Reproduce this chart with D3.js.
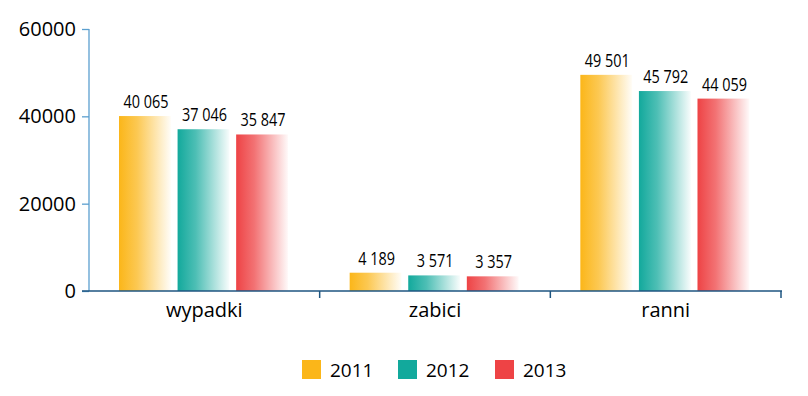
<!DOCTYPE html>
<html><head><meta charset="utf-8">
<script src="https://cdn.jsdelivr.net/npm/d3@7"></script>
<style>body{margin:0;background:#fff;} svg{display:block;}</style>
</head><body>
<svg id="c" width="808" height="396"></svg>
<script>
const categories = ["wypadki", "zabici", "ranni"];
const years = ["2011", "2012", "2013"];
const v2011 = [40065, 4189, 49501];
const v2012 = [37046, 3571, 45792];
const v2013 = [35847, 3357, 44059];
const yTicks = [0, 20000, 40000, 60000];
const colors = ["#FBB619", "#12A99C", "#EE4345"];
const series = [v2011, v2012, v2013];

const svg = d3.select("#c");
const x0 = d3.scaleBand().domain(categories).range([89, 781]).paddingInner(0).paddingOuter(0);
const x1 = d3.scaleBand().domain(years).range([30, 199]).paddingInner(0.115);
const y = d3.scaleLinear().domain([0, 60000]).range([291, 29]);

const defs = svg.append("defs");
colors.forEach((c, i) => {
  const g = defs.append("linearGradient").attr("id", "g" + i).attr("x1", "0").attr("x2", "1").attr("y1", "0").attr("y2", "0");
  g.append("stop").attr("offset", "0").attr("stop-color", c).attr("stop-opacity", 1);
  g.append("stop").attr("offset", "0.35").attr("stop-color", c).attr("stop-opacity", 0.75);
  g.append("stop").attr("offset", "1").attr("stop-color", c).attr("stop-opacity", 0.03);
});

const fmt = v => d3.format(",")(v).replace(/,/g, " ");

categories.forEach((cat, ci) => {
  series.forEach((s, si) => {
    const xx = x0(cat) + x1(years[si]);
    svg.append("rect").attr("x", xx).attr("y", y(s[ci])).attr("width", x1.bandwidth())
      .attr("height", y(0) - y(s[ci])).attr("fill", `url(#g${si})`);
    const cx = xx + x1.bandwidth() / 2 + 1, cy = y(s[ci]) - 8;
    svg.append("text").attr("transform", `translate(${cx},${cy}) scale(0.76,1)`)
      .attr("text-anchor", "middle").attr("font-family", "'Open Sans','Noto Sans',sans-serif")
      .attr("font-size", 19).attr("fill", "#000").text(fmt(s[ci]));
  });
});

// y axis
const yAxis = svg.append("g").attr("transform", "translate(89,0)")
  .call(d3.axisLeft(y).tickValues(yTicks).tickSize(7).tickPadding(6).tickFormat(d3.format("d")));
yAxis.select(".domain").attr("stroke", "#5b9fcf").attr("stroke-width", 1.3).attr("d", "M0,29V291");
yAxis.selectAll(".tick line").attr("stroke", "#5b9fcf").attr("stroke-width", 1.3);
yAxis.selectAll(".tick text").attr("font-family", "'Open Sans','Noto Sans',sans-serif").attr("font-size", 20).attr("fill", "#000");

// x axis
const xAxis = svg.append("g").attr("transform", "translate(0,291)")
  .call(d3.axisBottom(x0).tickSize(0).tickPadding(12));
xAxis.select(".domain").attr("stroke", "#1e5580").attr("stroke-width", 1.5).attr("d", "M82,0H782");
xAxis.selectAll(".tick text").attr("font-family", "'Open Sans','Noto Sans',sans-serif").attr("font-size", 20).attr("fill", "#000");
const bounds = [x0("zabici"), x0("ranni"), x0("ranni") + x0.bandwidth()];
svg.append("g").selectAll("line").data(bounds).join("line")
  .attr("x1", d => d).attr("x2", d => d).attr("y1", 291).attr("y2", 298)
  .attr("stroke", "#1e5580").attr("stroke-width", 1.5);

// legend
const legX = [302, 398, 495];
const lg = svg.append("g");
years.forEach((yr, i) => {
  lg.append("rect").attr("x", legX[i]).attr("y", 360).attr("width", 19).attr("height", 19).attr("fill", colors[i]);
  lg.append("text").attr("x", legX[i] + 28).attr("y", 377).attr("font-family", "'Open Sans','Noto Sans',sans-serif")
    .attr("font-size", 19).attr("fill", "#000").text(yr);
});
</script>
</body></html>
